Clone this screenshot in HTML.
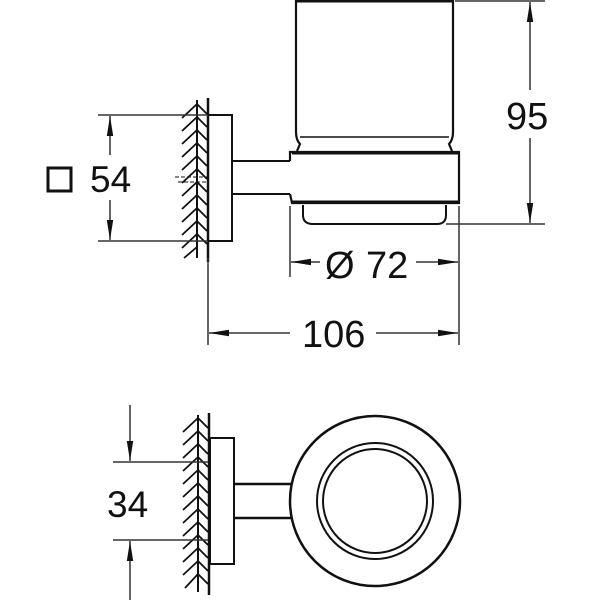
<!DOCTYPE html>
<html><head><meta charset="utf-8"><style>
html,body{margin:0;padding:0;background:#fff;}
svg{display:block}
text{font-family:"Liberation Sans",sans-serif;fill:#111;}
</style></head><body>
<svg width="600" height="600" viewBox="0 0 600 600" xmlns="http://www.w3.org/2000/svg">
<defs>
<marker id="a" viewBox="0 0 10 10" refX="10" refY="5" markerWidth="10" markerHeight="5" markerUnits="userSpaceOnUse" orient="auto-start-reverse" preserveAspectRatio="none">
<path d="M0,2 L10,5 L0,8 z" fill="#111"/></marker>
<marker id="b" viewBox="0 0 20 10" refX="20" refY="5" markerWidth="20" markerHeight="8" markerUnits="userSpaceOnUse" orient="auto-start-reverse" preserveAspectRatio="none">
<path d="M0,1 L20,5 L0,9 z" fill="#111"/></marker>
</defs>
<g stroke="#111" fill="none" stroke-width="2">
<!-- TOP VIEW wall -->
<line x1="197" y1="100" x2="197" y2="258"/>
<line x1="208" y1="98" x2="208" y2="262" stroke-width="2.5"/>
<g stroke-width="1.8">
<path d="M182,118 L197,104 M182,131 L197,117 M182,144 L197,130 M182,157 L197,143 M182,170 L197,156 M182,183 L197,169 M182,196 L197,182 M182,209 L197,195 M182,222 L197,208 M182,235 L197,221 M182,248 L197,234 M184,258 L197,247"/>
<path d="M197,104 L207,114 M197,117 L207,127 M197,130 L207,140 M197,143 L207,153 M197,156 L207,166 M197,169 L207,179 M197,182 L207,192 M197,195 L207,205 M197,208 L207,218 M197,221 L207,231 M197,234 L207,244"/>
</g>
<line x1="175" y1="177" x2="207" y2="177" stroke-width="1" stroke-dasharray="4,2"/>
<line x1="178" y1="182" x2="207" y2="182" stroke-width="1" stroke-dasharray="4,2"/>
<!-- backplate -->
<rect x="208" y="115" width="24" height="126"/>
<!-- arm -->
<line x1="232" y1="161" x2="290" y2="161"/>
<line x1="232" y1="194" x2="290" y2="194"/>
<!-- holder base -->
<path d="M290,161 L290,152 L459,152 L459,203 L292,203 L290,194" stroke-width="2.2"/>
<line x1="292" y1="153" x2="458" y2="153" stroke-width="3"/>
<line x1="292" y1="202" x2="458" y2="202" stroke-width="3"/>
<!-- glass -->
<path d="M296,0 L296,132 Q296,140 300,144 L297,151 M453,0 L453,132 Q453,140 449,144 L452,151" stroke-width="2.2"/>
<line x1="296" y1="1" x2="453" y2="1" stroke-width="3"/>
<line x1="300" y1="137" x2="449" y2="137" stroke-width="1.5"/>
<!-- lip -->
<path d="M303,205 L303,215 Q303,224 313,224 L437,224 Q446,224 446,215 L446,205" stroke-width="2"/>
</g>
<!-- dimensions top -->
<g stroke="#333" stroke-width="1.5" fill="none">
<line x1="455" y1="1" x2="545" y2="1"/>
<line x1="446" y1="224" x2="545" y2="224"/>
<line x1="530" y1="2" x2="530" y2="90" marker-start="url(#b)"/>
<line x1="530" y1="138" x2="530" y2="223" marker-end="url(#b)"/>
<line x1="98" y1="115" x2="208" y2="115"/>
<line x1="98" y1="241" x2="208" y2="241"/>
<line x1="110" y1="116" x2="110" y2="155" marker-start="url(#b)"/>
<line x1="110" y1="200" x2="110" y2="240" marker-end="url(#b)"/>
<line x1="290" y1="206" x2="290" y2="277"/>
<line x1="459" y1="206" x2="459" y2="345"/>
<line x1="291" y1="262" x2="320" y2="262" marker-start="url(#b)"/>
<line x1="416" y1="262" x2="458" y2="262" marker-end="url(#b)"/>
<line x1="208" y1="258" x2="208" y2="345"/>
<line x1="209" y1="333" x2="290" y2="333" marker-start="url(#b)"/>
<line x1="376" y1="333" x2="458" y2="333" marker-end="url(#b)"/>
</g>
<rect x="48" y="168" width="23" height="23" fill="none" stroke="#111" stroke-width="3"/>
<text x="90" y="192" font-size="37">54</text>
<text x="506" y="129" font-size="38">95</text>
<text x="325" y="278" font-size="38">Ø</text>
<text x="366" y="278" font-size="38">72</text>
<text x="302" y="347" font-size="38">106</text>
<!-- BOTTOM VIEW -->
<g stroke="#111" fill="none" stroke-width="2">
<line x1="198" y1="415" x2="198" y2="592"/>
<line x1="209" y1="413" x2="209" y2="595" stroke-width="2.5"/>
<g stroke-width="1.8">
<path d="M183,432 L198,418 M183,445 L198,431 M183,458 L198,444 M183,471 L198,457 M183,484 L198,470 M183,497 L198,483 M183,510 L198,496 M183,523 L198,509 M183,536 L198,522 M183,549 L198,535 M183,562 L198,548 M183,575 L198,561 M185,588 L198,574"/>
<path d="M198,418 L208,428 M198,431 L208,441 M198,444 L208,454 M198,457 L208,467 M198,470 L208,480 M198,483 L208,493 M198,496 L208,506 M198,509 L208,519 M198,522 L208,532 M198,535 L208,545 M198,548 L208,558 M198,561 L208,571 M198,574 L208,584"/>
</g>
<rect x="210" y="438" width="24" height="126"/>
<line x1="234" y1="484" x2="292" y2="484" stroke-width="2.5"/>
<line x1="234" y1="518" x2="292" y2="518" stroke-width="2.5"/>
<circle cx="375" cy="501" r="85" stroke-width="2.5"/>
<circle cx="375" cy="501" r="58" stroke-width="2"/>
<circle cx="375" cy="501" r="52" stroke-width="2"/>
</g>
<g stroke="#333" stroke-width="1.5" fill="none">
<line x1="113" y1="462" x2="208" y2="462"/>
<line x1="113" y1="540" x2="208" y2="540"/>
<line x1="130" y1="405" x2="130" y2="461" marker-end="url(#b)"/>
<line x1="130" y1="541" x2="130" y2="600" marker-start="url(#b)"/>
</g>
<text x="107" y="517" font-size="37">34</text>
</svg>
</body></html>
